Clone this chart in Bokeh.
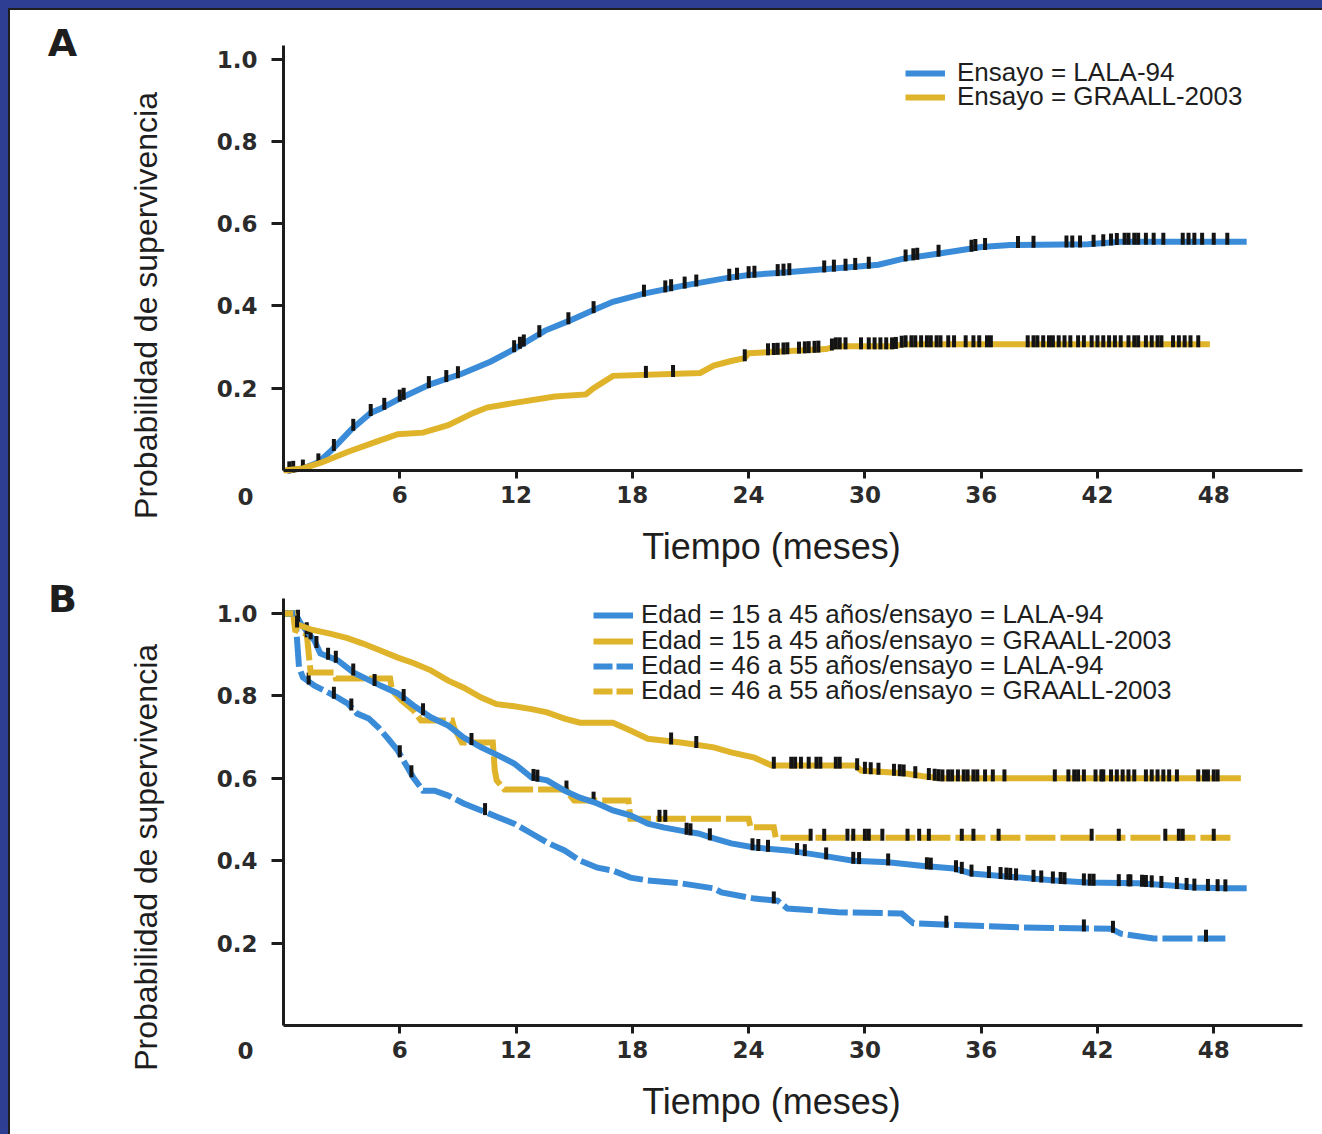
import numpy as np
from bokeh.plotting import figure
from bokeh.models import Legend, LegendItem, Label, FixedTicker, Range1d
from bokeh.layouts import column
from bokeh.embed import file_html
from bokeh.resources import INLINE

# ---------------- data ----------------
x_ticks = [6, 12, 18, 24, 30, 36, 42, 48]
x_tick_labels = ["6", "12", "18", "24", "30", "36", "42", "48"]
y_ticks = [0.2, 0.4, 0.6, 0.8, 1.0]
y_tick_labels = ["0.2", "0.4", "0.6", "0.8", "1.0"]

# Panel A  (Ensayo = LALA-94 / GRAALL-2003)
a_lala_t = [0.2, 1.0, 1.8, 2.5, 3.5, 4.5, 5.0, 6.0, 7.6, 9.2, 10.7, 11.9, 13.5, 14.7, 16.0, 17.0,
            18.6, 20.5, 22.9, 24.0, 25.5, 27.4, 29.5, 30.7, 32.0, 33.5, 34.6, 36.0, 37.5, 41.5, 43.2, 49.7]
a_lala_p = [0.0, 0.005, 0.02, 0.05, 0.10, 0.14, 0.15, 0.175, 0.21, 0.235, 0.265, 0.295, 0.34, 0.363, 0.39, 0.41,
            0.43, 0.448, 0.468, 0.475, 0.48, 0.487, 0.495, 0.50, 0.515, 0.525, 0.533, 0.543, 0.548, 0.55, 0.556, 0.556]
a_lala_cens = [0.3, 0.5, 1.0, 1.8, 2.6, 3.6, 4.5, 5.2, 6.0, 6.2, 7.5, 8.4, 9.0, 11.9, 12.2, 12.4, 13.2, 14.7,
               16.0, 18.6, 19.7, 20.0, 20.7, 21.3, 23.0, 23.4, 24.0, 24.3, 25.5, 25.8, 26.1, 27.9, 28.4, 29.0,
               29.5, 30.2, 32.1, 32.5, 32.7, 33.8, 35.5, 35.7, 36.2, 37.9, 38.7, 40.4, 40.7, 41.1, 41.8, 42.3,
               42.7, 43.0, 43.4, 43.6, 43.9, 44.1, 44.5, 44.9, 45.4, 46.4, 46.7, 47.0, 47.4, 48.0, 48.7]

a_graall_t = [0.0, 1.0, 2.0, 3.3, 4.8, 5.9, 7.2, 8.5, 9.8, 10.5, 12.0, 14.0, 15.6, 16.0, 17.0, 21.5,
              22.2, 23.1, 23.8, 24.0, 28.0, 28.5, 31.5, 32.0, 47.8]
a_graall_p = [0.0, 0.005, 0.02, 0.045, 0.07, 0.088, 0.092, 0.11, 0.14, 0.153, 0.165, 0.18, 0.185, 0.20, 0.23, 0.237,
              0.255, 0.266, 0.273, 0.285, 0.295, 0.302, 0.302, 0.307, 0.307]
a_graall_cens = [18.7, 20.1, 23.8, 25.0, 25.3, 25.5, 25.8, 26.0, 26.6, 26.9, 27.1, 27.4, 27.6, 28.3, 28.5, 28.7,
                 29.0, 29.8, 30.2, 30.5, 30.8, 31.1, 31.4, 31.6, 31.9, 32.1, 32.4, 32.6, 32.9, 33.2, 33.4, 33.7,
                 33.9, 34.3, 34.6, 35.2, 35.6, 35.9, 36.3, 36.5, 38.4, 38.7, 38.9, 39.2, 39.5, 39.7, 40.0, 40.3,
                 40.6, 41.0, 41.3, 41.7, 42.0, 42.3, 42.6, 42.9, 43.2, 43.6, 43.9, 44.1, 44.5, 44.8, 45.1, 45.3,
                 45.9, 46.2, 46.5, 46.8, 47.2]

# Panel B  (Edad / ensayo)
b_young_lala_t = [0.0, 0.6, 0.9, 1.3, 1.6, 1.9, 2.8, 3.6, 5.0, 5.9, 6.7, 7.6, 8.5, 9.3, 10.2, 11.1, 11.9, 12.8,
                  13.6, 14.5, 15.3, 16.2, 17.0, 17.9, 18.8, 19.6, 20.5, 21.4, 22.2, 23.1, 24.3, 26.0, 27.7, 29.4,
                  31.2, 32.9, 34.6, 35.5, 38.0, 39.8, 41.5, 44.1, 45.8, 47.0, 48.7, 49.7]
b_young_lala_p = [1.0, 1.0, 0.975, 0.951, 0.934, 0.903, 0.886, 0.857, 0.825, 0.806, 0.777, 0.748, 0.728, 0.699,
                  0.675, 0.655, 0.636, 0.602, 0.595, 0.57, 0.553, 0.539, 0.522, 0.51, 0.49, 0.481, 0.473, 0.466,
                  0.454, 0.442, 0.432, 0.425, 0.413, 0.40, 0.396, 0.388, 0.381, 0.369, 0.359, 0.352, 0.347, 0.345,
                  0.34, 0.335, 0.333, 0.333]
b_young_lala_cens = [0.75, 1.2, 1.4, 1.7, 2.3, 2.7, 3.6, 4.7, 6.2, 7.2, 9.7, 12.9, 13.1, 20.8, 21.0, 22.0, 24.2,
                     24.5, 25.0, 26.5, 26.9, 28.0, 29.4, 29.7, 31.2, 33.2, 33.4, 34.7, 35.0, 35.5, 36.4, 37.0,
                     37.3, 37.5, 37.8, 38.7, 39.1, 39.7, 40.1, 40.3, 41.3, 41.6, 41.8, 43.1, 43.6, 43.7, 44.3,
                     44.5, 44.8, 45.3, 46.1, 46.6, 47.0, 47.7, 48.2, 48.6]

b_young_graall_t = [0.0, 0.5, 0.6, 1.5, 2.4, 3.3, 4.1, 5.0, 5.9, 6.7, 7.6, 8.5, 9.3, 10.2, 11.0, 11.9, 12.8, 13.6,
                    14.5, 15.3, 17.0, 17.9, 18.8, 20.5, 22.2, 23.1, 24.3, 25.2, 29.5, 29.8, 32.0, 33.0, 33.9, 49.4]
b_young_graall_p = [1.0, 1.0, 0.975, 0.96, 0.951, 0.94, 0.927, 0.91, 0.893, 0.88, 0.862, 0.837, 0.82, 0.796, 0.78,
                    0.775, 0.768, 0.76, 0.745, 0.735, 0.735, 0.716, 0.696, 0.687, 0.675, 0.663, 0.65, 0.631, 0.631,
                    0.619, 0.612, 0.605, 0.60, 0.60]
b_young_graall_cens = [0.7, 20.0, 21.3, 25.3, 26.2, 26.4, 26.7, 27.1, 27.5, 27.7, 28.5, 28.7, 29.6, 30.0, 30.3,
                       30.7, 31.5, 31.8, 32.0, 32.6, 33.3, 33.6, 33.8, 34.0, 34.3, 34.5, 34.8, 35.1, 35.3, 35.6,
                       35.8, 36.2, 36.6, 37.2, 39.8, 40.5, 40.8, 41.0, 41.3, 41.9, 42.2, 42.3, 42.7, 43.0, 43.3,
                       43.6, 43.9, 44.5, 44.8, 45.1, 45.4, 45.7, 46.1, 47.2, 47.5, 47.7, 48.0, 48.2]

b_old_lala_t = [0.0, 0.6, 0.8, 1.0, 1.6, 2.1, 2.8, 3.3, 3.8, 4.4, 4.9, 5.4, 5.9, 6.4, 6.7, 7.2, 7.8, 8.5, 9.3,
                10.2, 11.1, 11.9, 12.8, 13.6, 14.5, 15.3, 16.2, 17.0, 17.9, 18.8, 20.5, 22.2, 22.6, 24.3, 25.5,
                26.0, 28.6, 31.9, 32.5, 38.0, 42.7, 43.2, 44.9, 48.6]
b_old_lala_p = [1.0, 1.0, 0.87, 0.845, 0.825, 0.813, 0.796, 0.782, 0.757, 0.745, 0.723, 0.696, 0.667, 0.626,
                0.602, 0.57, 0.57, 0.558, 0.539, 0.522, 0.505, 0.49, 0.466, 0.444, 0.425, 0.40, 0.383, 0.376,
                0.359, 0.352, 0.345, 0.333, 0.323, 0.308, 0.303, 0.284, 0.275, 0.272, 0.248, 0.238, 0.235,
                0.223, 0.211, 0.211]
b_old_lala_cens = [1.3, 2.6, 3.5, 6.0, 6.6, 10.4, 25.3, 34.2, 41.3, 42.8, 47.6]

b_old_graall_t = [0.0, 0.5, 0.6, 1.2, 1.4, 2.6, 2.7, 5.5, 5.6, 6.1, 6.7, 7.1, 8.7, 8.8, 9.2, 10.8, 10.9, 11.0,
                  11.4, 14.6, 14.7, 15.0, 17.8, 17.9, 24.0, 24.1, 25.3, 25.4, 49.0]
b_old_graall_p = [1.0, 1.0, 0.96, 0.95, 0.857, 0.857, 0.842, 0.842, 0.813, 0.789, 0.765, 0.74, 0.74, 0.723,
                  0.687, 0.687, 0.62, 0.595, 0.573, 0.573, 0.563, 0.546, 0.546, 0.502, 0.502, 0.481, 0.481,
                  0.456, 0.456]
b_old_graall_cens = [1.2, 14.6, 16.0, 19.4, 19.7, 27.2, 27.9, 29.1, 29.4, 30.0, 30.2, 30.9, 32.2, 32.8, 33.3,
                     35.0, 35.6, 36.9, 41.7, 43.1, 45.5, 46.2, 46.4, 48.0]

legend_a = ["Ensayo = LALA-94", "Ensayo = GRAALL-2003"]
legend_b = ["Edad = 15 a 45 años/ensayo = LALA-94",
            "Edad = 15 a 45 años/ensayo = GRAALL-2003",
            "Edad = 46 a 55 años/ensayo = LALA-94",
            "Edad = 46 a 55 años/ensayo = GRAALL-2003"]

# ---------------- style ----------------
BLUE = "#3a8bd8"
GOLD = "#e0b42a"
INK = "#1c1c1c"
MARK = "#141414"
TXT = "#1e1e1e"
LW = 6
DASH = "30 5"
KEY_DASH = "19 4"
LIFT = 0.007
W = 1322
PX_X = 19.38                 # pixels per month
X0 = 283                     # page x of month 0
X_AXIS_END = 52.58


def make_fig(height, y0_px, px_y, y_axis_end):
    # frame fills the whole canvas; axes are drawn at fixed data locations
    xr = Range1d(-X0 / PX_X, (W - X0) / PX_X)
    yr = Range1d(-(height - y0_px) / px_y, y0_px / px_y)
    p = figure(width=W, height=height, output_backend="svg", toolbar_location=None,
               x_range=xr, y_range=yr, min_border=0, min_border_left=0, min_border_right=0,
               min_border_top=0, min_border_bottom=0)
    p.border_fill_color = None
    p.background_fill_color = None
    p.outline_line_color = None
    p.grid.visible = False
    p.xaxis.fixed_location = 0
    p.yaxis.fixed_location = 0
    p.xaxis.bounds = (0, X_AXIS_END)
    p.yaxis.bounds = (0, y_axis_end)
    p.xaxis.ticker = FixedTicker(ticks=x_ticks)
    p.xaxis.major_label_overrides = dict(zip(x_ticks, x_tick_labels))
    p.yaxis.ticker = FixedTicker(ticks=y_ticks)
    p.yaxis.major_label_overrides = dict(zip(y_ticks, y_tick_labels))
    for ax in (p.xaxis[0], p.yaxis[0]):
        ax.axis_line_width = 3
        ax.axis_line_color = INK
        ax.major_tick_line_width = 3
        ax.major_tick_line_color = INK
        ax.major_tick_in = 0
        ax.minor_tick_line_color = None
        ax.major_label_text_font = "DejaVu Sans"
        ax.major_label_text_font_style = "bold"
        ax.major_label_text_font_size = "23px"
        ax.major_label_text_color = "#2b2b2b"
    p.xaxis.major_tick_out = 8
    p.yaxis.major_tick_out = 12
    p.xaxis.major_label_standoff = 7
    p.yaxis.major_label_standoff = 14
    return p


def add_curve(p, t, v, cens, color, dash="solid"):
    r = p.line(t, v, line_color=color, line_width=LW, line_dash=dash, line_join="miter")
    cy = np.interp(cens, t, v) + LIFT
    p.rect(x=cens, y=cy, width=4, height=12, width_units="screen", height_units="screen",
           fill_color=MARK, line_color=None)
    return r


def add_texts(p, letter, letter_y, ylab_y, xlab_y, zero_y):
    p.add_layout(Label(x=-11.4, y=letter_y, text=letter, text_font="DejaVu Sans", text_font_style="bold",
                       text_font_size="38px", text_color=TXT, text_align="center",
                       text_baseline="middle"))
    p.add_layout(Label(x=-7.12, y=ylab_y, text="Probabilidad de supervivencia", angle=np.pi / 2,
                       text_font="Liberation Sans", text_font_size="32px", text_color=TXT,
                       text_align="center", text_baseline="middle"))
    p.add_layout(Label(x=25.18, y=xlab_y, text="Tiempo (meses)", text_font="Liberation Sans",
                       text_font_size="36px", text_color=TXT, text_align="center",
                       text_baseline="middle"))
    p.add_layout(Label(x=-1.96, y=zero_y, text="0", text_font="DejaVu Sans", text_font_style="bold",
                       text_font_size="23px", text_color="#2b2b2b", text_align="center",
                       text_baseline="middle"))


def key(p, label, renderer, loc, standoff):
    lg = Legend(items=[LegendItem(label=label, renderers=[renderer])], location=loc,
                label_text_font="Liberation Sans", label_text_font_size="26px",
                label_text_color=TXT, glyph_width=40, glyph_height=20, label_standoff=standoff,
                spacing=0, padding=0, margin=0, border_line_color=None, background_fill_alpha=0)
    p.add_layout(lg)


# ---------------- panel A ----------------
pa = make_fig(575, 470, 411.5, 1.033)
ra1 = add_curve(pa, a_lala_t, a_lala_p, a_lala_cens, BLUE)
ra2 = add_curve(pa, a_graall_t, a_graall_p, a_graall_cens, GOLD)
key(pa, legend_a[0], ra1, (905, 487), 12)
key(pa, legend_a[1], ra2, (905, 463), 12)
add_texts(pa, "A", 1.038, 0.401, -0.185, -0.063)

# ---------------- panel B ----------------
pb = make_fig(559, 450, 412, 1.036)
rb3 = add_curve(pb, b_old_lala_t, b_old_lala_p, b_old_lala_cens, BLUE, DASH)
rb4 = add_curve(pb, b_old_graall_t, b_old_graall_p, b_old_graall_cens, GOLD, DASH)
rb1 = add_curve(pb, b_young_lala_t, b_young_lala_p, b_young_lala_cens, BLUE)
rb2 = add_curve(pb, b_young_graall_t, b_young_graall_p, b_young_graall_cens, GOLD)
# key renderers for the dashed series: they retrace the first (flat) segment of
# each dashed curve and give the legend keys a shorter dash pattern
kb3 = pb.line(b_old_lala_t[:2], b_old_lala_p[:2], line_color=BLUE, line_width=LW, line_dash=KEY_DASH)
kb4 = pb.line(b_old_graall_t[:2], b_old_graall_p[:2], line_color=GOLD, line_width=LW, line_dash=KEY_DASH)
key(pb, legend_b[0], rb1, (593, 504), 8)
key(pb, legend_b[1], rb2, (593, 478), 8)
key(pb, legend_b[2], kb3, (593, 453), 8)
key(pb, legend_b[3], kb4, (593, 428), 8)
add_texts(pb, "B", 1.036, 0.408, -0.184, -0.061)

layout = column(pa, pb)

html = file_html(layout, INLINE, title="Supervivencia")
css = ("<style>html{background:"
       "linear-gradient(#2e3e93,#2e3e93) 0 0/100% 8px no-repeat,"
       "linear-gradient(#2e3e93,#2e3e93) 0 0/8px 100% no-repeat,"
       "linear-gradient(#1f1f1f,#1f1f1f) 8px 8px/100% 2px no-repeat,"
       "linear-gradient(#1f1f1f,#1f1f1f) 8px 8px/2px 100% no-repeat,"
       "#ffffff;} body{background:transparent;}</style>")
html = html.replace("</head>", css + "</head>", 1)
open("out.html", "w").write(html)
